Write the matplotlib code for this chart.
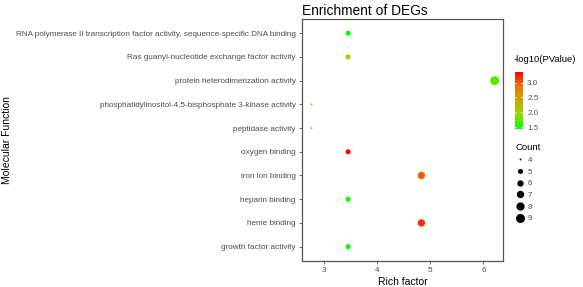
import numpy as np
import matplotlib
matplotlib.use("Agg")
import matplotlib.pyplot as plt
from matplotlib.colors import LinearSegmentedColormap, Normalize
from matplotlib.lines import Line2D

plt.rcParams['font.family'] = ['Liberation Sans', 'DejaVu Sans']

# data (bottom to top)
terms = ['growth factor activity', 'heme binding', 'heparin binding',
         'iron ion binding', 'oxygen binding', 'peptidase activity',
         'phosphatidylinositol-4,5-bisphosphate 3-kinase activity',
         'protein heterodimerization activity',
         'Ras guanyl-nucleotide exchange factor activity',
         'RNA polymerase II transcription factor activity, sequence-specific DNA binding']
rich_factor = [3.45, 4.83, 3.45, 4.83, 3.45, 2.76, 2.76, 6.21, 3.45, 3.45]
neg_log_p = [1.45, 3.18, 1.50, 2.97, 3.37, 1.60, 1.62, 1.72, 1.97, 1.43]
count = [5, 7, 5, 7, 5, 4, 4, 9, 5, 5]
legend_counts = [4, 5, 6, 7, 8, 9]

# green -> red gradient (ggplot-like Lab interpolation)
cmap = LinearSegmentedColormap.from_list(
    'gr', ['#00FF00', '#98D700', '#C9AB00', '#E87600', '#FF0000'])
norm = Normalize(vmin=min(neg_log_p), vmax=max(neg_log_p))

def msize(c):
    # marker diameter in points, area-like scaling as in ggplot scale_size
    d_px = 1.42 * (1 + 5 * np.sqrt((np.asarray(c) - 4) / 5.0) + 0.33)
    return d_px * 0.72

fig = plt.figure(figsize=(5.83, 2.87), dpi=100)
ax = fig.add_axes([0.518, 0.091, 0.345, 0.843])

y = np.arange(len(terms))
ax.scatter(rich_factor, y, s=msize(count) ** 2, c=neg_log_p, cmap=cmap,
           norm=norm, linewidths=0, zorder=3)

ax.set_xlim(2.58, 6.37)
ax.set_ylim(-0.6, len(terms) - 0.4)
ax.set_xticks([3, 4, 5, 6])
ax.set_yticks(y)
ax.set_yticklabels(terms)
ax.tick_params(labelsize=5.9, colors='#4D4D4D', length=2.5, width=0.6, pad=2)
for s in ax.spines.values():
    s.set_color('#555555')
    s.set_linewidth(0.9)

ax.set_title('Enrichment of DEGs', loc='left', fontsize=9.9, pad=3)
ax.set_xlabel('Rich factor', fontsize=7.5, labelpad=2)
fig.text(0.012, 0.512, 'Molecular Function', rotation=90, fontsize=7.5,
         ha='center', va='center')

# colour legend
cax = fig.add_axes([0.883, 0.55, 0.014, 0.2])
sm = plt.cm.ScalarMappable(norm=norm, cmap=cmap)
cb = fig.colorbar(sm, cax=cax, ticks=[1.5, 2.0, 2.5, 3.0])
cb.outline.set_visible(False)
cb.ax.tick_params(labelsize=5.8, colors='#4D4D4D', length=0, pad=3)
cb.ax.set_yticklabels(['1.5', '2.0', '2.5', '3.0'])
for t in [1.5, 2.0, 2.5, 3.0]:
    cax.plot([0, 0.2], [t, t], color='white', lw=0.5)
    cax.plot([0.8, 1], [t, t], color='white', lw=0.5)
fig.text(0.881, 0.778, '-log10(PValue)', fontsize=6.8, ha='left', va='bottom')

# size legend
handles = [Line2D([], [], marker='o', ls='none', color='black',
                  markersize=msize(c), markeredgewidth=0)
           for c in legend_counts]
leg = fig.legend(handles, [str(c) for c in legend_counts], title='Count',
                 loc='upper left', bbox_to_anchor=(0.875, 0.52),
                 frameon=False, fontsize=5.8, title_fontsize=6.8,
                 handlelength=1.0, handletextpad=0.5, labelspacing=0.5,
                 borderpad=0.2)
leg._legend_box.align = 'left'
for t in leg.get_texts():
    t.set_color('#4D4D4D')

fig.savefig('out.png', dpi=100)
